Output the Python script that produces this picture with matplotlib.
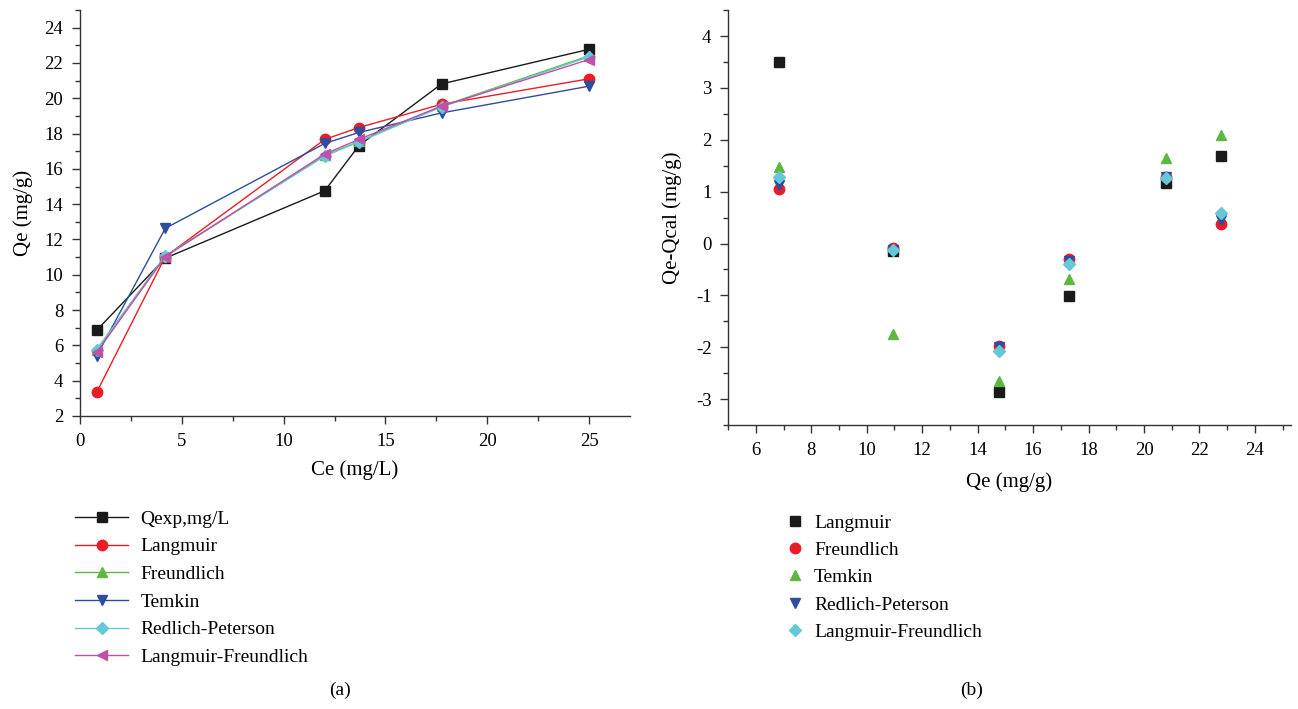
import matplotlib
matplotlib.use("Agg")
import matplotlib.pyplot as plt
from matplotlib.ticker import MultipleLocator

plt.rcParams['font.family'] = ['Liberation Serif', 'DejaVu Serif']
plt.rcParams['axes.unicode_minus'] = False

# ---- data (a) ----
ce = [0.82, 4.19, 12.02, 13.69, 17.75, 24.98]
qexp = [6.85, 10.94, 14.76, 17.31, 20.81, 22.77]
q_langmuir = [3.34, 11.03, 17.67, 18.34, 19.66, 21.10]
q_freundlich = [5.75, 11.07, 16.76, 17.55, 19.55, 22.40]
q_temkin = [5.41, 12.63, 17.44, 18.06, 19.17, 20.68]
q_redlich = [5.75, 11.07, 16.72, 17.53, 19.51, 22.34]
q_lf = [5.60, 11.03, 16.84, 17.67, 19.55, 22.19]

# ---- data (b) ----
qe = [6.85, 10.94, 14.76, 17.31, 20.81, 22.77]
r_langmuir = [3.50, -0.14, -2.86, -1.02, 1.17, 1.68]
r_freundlich = [1.06, -0.08, -1.97, -0.29, 1.28, 0.38]
r_temkin = [1.48, -1.74, -2.65, -0.68, 1.65, 2.09]
r_redlich = [1.12, -0.12, -1.99, -0.33, 1.28, 0.45]
r_lf = [1.28, -0.12, -2.08, -0.40, 1.26, 0.59]

BLACK = '#1a1a1a'
RED = '#ec1c24'
GREEN = '#5cb840'
BLUE = '#2e4d9f'
CYAN = '#64c8d8'
MAGENTA = '#c050a8'

fig = plt.figure(figsize=(12.98, 7.09), dpi=100)
ax1 = fig.add_axes([0.0616, 0.4133, 0.4237, 0.5726])
ax2 = fig.add_axes([0.5609, 0.4006, 0.4337, 0.585])

def style(ax):
    for s in ['top', 'right']:
        ax.spines[s].set_visible(False)
    for s in ['left', 'bottom']:
        ax.spines[s].set_linewidth(1.0)
        ax.spines[s].set_color('#333333')
    ax.tick_params(which='both', direction='out', labelsize=13.5, width=1,
                   color='#333333', pad=6)
    ax.tick_params(which='major', length=6)
    ax.tick_params(which='minor', length=3.5)

ms = 7.5
series_a = [
    (qexp, 'Qexp,mg/L', BLACK, 's'),
    (q_langmuir, 'Langmuir', RED, 'o'),
    (q_freundlich, 'Freundlich', GREEN, '^'),
    (q_temkin, 'Temkin', BLUE, 'v'),
    (q_redlich, 'Redlich-Peterson', CYAN, 'D'),
    (q_lf, 'Langmuir-Freundlich', MAGENTA, '<'),
]
handles_a = []
for ys, lab, c, m in series_a:
    msz = ms - 1.5 if m == 'D' else ms
    h, = ax1.plot(ce, ys, color=c, marker=m, markersize=msz, lw=1.0, label=lab)
    handles_a.append(h)

ax1.set_xlim(0, 27)
ax1.set_ylim(2, 25)
ax1.xaxis.set_major_locator(MultipleLocator(5))
ax1.xaxis.set_minor_locator(MultipleLocator(2.5))
ax1.yaxis.set_major_locator(MultipleLocator(2))
ax1.yaxis.set_minor_locator(MultipleLocator(1))
style(ax1)
ax1.set_xlabel('Ce (mg/L)', fontsize=15, labelpad=8)
ax1.set_ylabel('Qe (mg/g)', fontsize=15, labelpad=8)

series_b = [
    (r_langmuir, 'Langmuir', BLACK, 's'),
    (r_freundlich, 'Freundlich', RED, 'o'),
    (r_temkin, 'Temkin', GREEN, '^'),
    (r_redlich, 'Redlich-Peterson', BLUE, 'v'),
    (r_lf, 'Langmuir-Freundlich', CYAN, 'D'),
]
handles_b = []
for ys, lab, c, m in series_b:
    msz = ms - 1.5 if m == 'D' else ms
    h, = ax2.plot(qe, ys, color=c, marker=m, markersize=msz, linestyle='none', label=lab)
    handles_b.append(h)

ax2.set_xlim(5, 25.3)
ax2.set_ylim(-3.5, 4.5)
ax2.xaxis.set_major_locator(MultipleLocator(2))
ax2.xaxis.set_minor_locator(MultipleLocator(1))
ax2.yaxis.set_major_locator(MultipleLocator(1))
ax2.yaxis.set_minor_locator(MultipleLocator(0.5))
style(ax2)
ax2.set_xlabel('Qe (mg/g)', fontsize=15, labelpad=10)
ax2.set_ylabel('Qe-Qcal (mg/g)', fontsize=15, labelpad=10)

fig.legend(handles=handles_a, loc='upper left', bbox_to_anchor=(0.058, 1 - 510 / 709),
           frameon=False, fontsize=14, handlelength=2.7, handletextpad=0.65,
           labelspacing=0.52, borderaxespad=0, borderpad=0)
fig.legend(handles=handles_b, loc='upper left', bbox_to_anchor=(0.607, 1 - 514 / 709),
           frameon=False, fontsize=14, handlelength=0.7, handletextpad=0.65,
           labelspacing=0.50, borderaxespad=0, borderpad=0)

fig.text(340 / 1298, 1 - 690 / 709, '(a)', ha='center', va='center', fontsize=14)
fig.text(972 / 1298, 1 - 690 / 709, '(b)', ha='center', va='center', fontsize=14)

fig.savefig('out.png', dpi=100)
